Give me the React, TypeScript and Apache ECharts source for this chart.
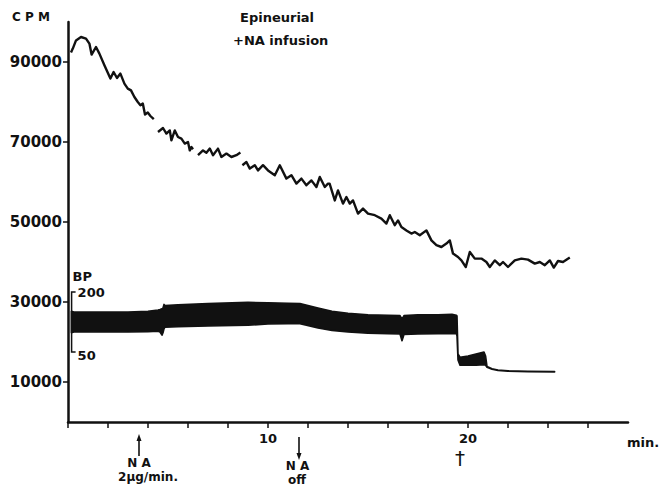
import React, { useEffect, useRef } from "react";
import * as echarts from "echarts";

const FONT = '"DejaVu Sans", sans-serif';
const INK = "#111";

// Axis ticks / labels
const xTicks = [0, 2, 4, 6, 8, 10, 12, 14, 16, 18, 20, 22, 24, 26];
const xLabels = [10, 20];
const yTicks = [10000, 30000, 50000, 70000, 90000];
const bpScale = [50, 200];
const bpScaleAt = 0.18; // minutes, where the BP calibration bracket is drawn

// CPM trace (minutes, counts per minute); null = pen gap
const cpmMinutes = [
  0.15, 0.24, 0.4, 0.65, 0.9, 1.07, 1.18, 1.4, 1.57, 1.82, 2.12, 2.28, 2.45, 2.62, 2.82, 2.99, 3.15, 3.32, 3.49, 3.62, 3.74, 3.85, 3.99, 4.12, 4.29,
  4.4,
  4.5, 4.75, 4.92, 5.09, 5.17, 5.34, 5.5, 5.67, 5.84, 6.0, 6.09, 6.17, 6.25,
  6.38,
  6.5, 6.75, 6.92, 7.09, 7.25, 7.5, 7.67, 7.92, 8.17, 8.42, 8.62,
  8.67,
  8.72, 8.92, 9.09, 9.34, 9.5, 9.75, 10.0, 10.34, 10.59, 10.92, 11.17, 11.42, 11.67, 11.92, 12.17, 12.42, 12.59, 12.84, 13.0, 13.08,
  13.34, 13.5, 13.75, 13.92, 14.09, 14.25, 14.5, 14.75, 15.0, 15.34, 15.67, 15.92, 16.09, 16.34, 16.5, 16.67, 16.92, 17.17, 17.34, 17.59,
  17.92, 18.17, 18.42, 18.67, 18.92, 19.09, 19.25, 19.5, 19.67, 19.89, 20.09, 20.34, 20.67, 20.92, 21.09, 21.34, 21.59, 21.75, 22.0, 22.34,
  22.67, 23.0, 23.34, 23.59, 23.84, 24.09, 24.29, 24.5, 24.75, 25.09,
];
const cpmValues: (number | null)[] = [
  92400, 93350, 95400, 96250, 95850, 94600, 91850, 93750, 92100, 89200, 85850, 87500, 86000, 87100, 84600, 83350, 82900, 81250, 80000, 79200, 79600, 76850, 77350, 76500, 75700,
  null,
  72500, 73500, 72100, 72900, 70400, 72900, 71250, 70850, 69600, 70000, 67900, 68750, 68200,
  null,
  66700, 67900, 67300, 68350, 66700, 68350, 66250, 67100, 66250, 66700, 67350,
  null,
  64200, 65000, 63350, 64200, 62900, 64200, 62900, 61700, 64200, 60850, 61700, 59600, 60850, 59200, 60400, 58750, 61250, 58750, 59600, 59600,
  55400, 57900, 54600, 56250, 54600, 55400, 52100, 53350, 52100, 51700, 50850, 49600, 51700, 49200, 50400, 48750, 47900, 47100, 47500, 46700,
  47900, 45400, 44200, 43750, 44600, 45400, 42100, 41250, 40400, 38750, 42500, 40850, 40850, 40000, 38750, 40400, 39200, 40000, 38750, 40400,
  40850, 40600, 39600, 40000, 39200, 40400, 38600, 40250, 40000, 41100,
];

// Blood pressure envelope (minutes, mmHg low / high)
const bpMinutes = [
  0.17, 0.3, 1.0, 2.0, 3.0, 4.0, 4.5, 4.6, 4.7, 4.75, 4.8, 4.85, 5.5, 7.0, 9.0, 10.0, 11.0, 11.6, 12.5, 13.2, 14.0, 15.0, 16.0, 16.6, 16.7,
  16.8, 17.5, 18.5, 19.2, 19.42, 19.45, 19.5, 19.6, 20.0, 20.4, 20.8, 20.88, 20.95, 21.2, 21.5, 22.0, 23.0, 24.33,
];
const bpLow = [
  98, 100, 100, 101, 100, 101, 102, 100, 92, 98, 108, 112, 113, 115, 117, 120, 121, 121, 110, 104, 100, 97, 96, 95, 78,
  94, 95, 96, 96, 96, 90, 30, 17, 17, 17, 18, 17, 12, 7, 4, 2, 1, 0,
];
const bpHigh = [
  152, 150, 150, 150, 150, 152, 155, 156, 158, 160, 169, 166, 168, 171, 174, 173, 172, 171, 160, 152, 147, 143, 142, 141, 132,
  141, 143, 143, 144, 142, 140, 45, 37, 40, 45, 50, 40, 14, 8, 5, 3, 2, 1,
];

// Event annotations below the time axis
const events = [
  { t: 3.55, dir: "up", lines: ["N A", "2μg/min."] },
  { t: 11.55, dir: "down", lines: ["N A", "off"] },
  { t: 19.6, dir: "none", lines: ["†"] },
];

export default function App() {
  const ref = useRef<HTMLDivElement>(null);

  useEffect(() => {
    if (!ref.current) return;
    const chart = echarts.init(ref.current, null, { renderer: "svg" });

    const option: any = {
      animation: false,
      backgroundColor: "#fff",
      grid: { left: 68, top: 22, width: 560, height: 400 },
      xAxis: {
        type: "value",
        min: 0,
        max: 28,
        name: "min.",
        nameLocation: "end",
        nameGap: -1,
        nameTextStyle: {
          color: INK,
          fontFamily: FONT,
          fontWeight: "bold",
          fontSize: 13,
          align: "left",
          verticalAlign: "top",
          padding: [14, 0, 0, 0],
        },
        axisLine: { show: true, onZero: false, lineStyle: { color: INK, width: 2.5 } },
        axisTick: { show: true, inside: false, length: 6, customValues: xTicks, lineStyle: { color: INK, width: 1.5 } },
        axisLabel: {
          show: true,
          customValues: xLabels,
          margin: 10,
          color: INK,
          fontFamily: FONT,
          fontWeight: "bold",
          fontSize: 13,
        },
        splitLine: { show: false },
      },
      yAxis: [
        {
          type: "value",
          min: 0,
          max: 100000,
          name: "C P M",
          nameLocation: "end",
          nameGap: 5,
          nameTextStyle: {
            color: INK,
            fontFamily: FONT,
            fontWeight: "bold",
            fontSize: 12,
            align: "right",
            verticalAlign: "middle",
            padding: [0, 18, 0, 0],
          },
          axisLine: { show: true, onZero: false, lineStyle: { color: INK, width: 2.5 } },
          axisTick: { show: true, inside: false, length: 5, customValues: yTicks, lineStyle: { color: INK, width: 1.5 } },
          axisLabel: {
            show: true,
            customValues: yTicks,
            formatter: (v: number) => String(v),
            margin: 6,
            color: INK,
            fontFamily: FONT,
            fontWeight: "bold",
            fontSize: 15,
          },
          splitLine: { show: false },
        },
        {
          type: "value",
          min: -125,
          max: 875,
          show: false,
          splitLine: { show: false },
        },
      ],
      series: [
        {
          type: "line",
          name: "CPM",
          data: cpmMinutes.map((t, i) => [t, cpmValues[i] === null ? "-" : cpmValues[i]]),
          showSymbol: false,
          symbol: "none",
          connectNulls: false,
          lineStyle: { color: INK, width: 2.4, join: "round" },
          z: 3,
        },
        {
          type: "custom",
          name: "BP",
          yAxisIndex: 1,
          data: bpMinutes.map((t, i) => [t, bpLow[i], bpHigh[i]]),
          encode: { x: 0, y: [1, 2] },
          renderItem: (params: any, api: any) => {
            if (params.dataIndex !== 0) return null;
            const pts: number[][] = [];
            for (let i = 0; i < bpMinutes.length; i++) pts.push(api.coord([bpMinutes[i], bpLow[i]]));
            for (let i = bpMinutes.length - 1; i >= 0; i--) pts.push(api.coord([bpMinutes[i], bpHigh[i]]));
            return {
              type: "polygon",
              shape: { points: pts },
              style: { fill: INK, stroke: INK, lineWidth: 1.6, lineJoin: "round" },
            };
          },
          z: 2,
        },
      ],
    };

    chart.setOption(option);

    const px = (t: number) => chart.convertToPixel({ xAxisIndex: 0 } as any, t) as unknown as number;
    const bpPx = (v: number) => chart.convertToPixel({ yAxisIndex: 1 } as any, v) as unknown as number;
    const axisBottom = chart.convertToPixel({ yAxisIndex: 0 } as any, 0) as unknown as number;

    const txt = (x: number, y: number, text: string, size = 13, align = "center") => ({
      type: "text",
      x,
      y,
      style: {
        text,
        fill: INK,
        font: `bold ${size}px ${FONT}`,
        align,
        textAlign: align,
        verticalAlign: "middle",
        textVerticalAlign: "middle",
      },
    });

    const g: any[] = [];

    // Title annotation
    g.push(txt(240, 17, "Epineurial", 13, "left"));
    g.push(txt(233, 40, "+NA infusion", 13, "left"));

    // BP calibration bracket
    const bx = px(bpScaleAt);
    const pHi = bpPx(bpScale[1]);
    const pLo = bpPx(bpScale[0]);
    g.push({
      type: "polyline",
      shape: { points: [[bx + 4, pHi], [bx, pHi], [bx, pLo], [bx + 4, pLo]] },
      style: { stroke: INK, lineWidth: 1.5, fill: null },
    });
    g.push(txt(bx + 6, pHi, String(bpScale[1]), 13, "left"));
    g.push(txt(bx + 6, pLo + 3, String(bpScale[0]), 13, "left"));
    g.push(txt(bx + 1, pHi - 16, "BP", 13, "left"));

    // Events
    const base = axisBottom;
    events.forEach((ev) => {
      const ax = px(ev.t);
      if (ev.dir === "up") {
        g.push({ type: "line", shape: { x1: ax, y1: base + 17, x2: ax, y2: base + 34 }, style: { stroke: INK, lineWidth: 1.6 } });
        g.push({ type: "polygon", shape: { points: [[ax, base + 12], [ax - 2.5, base + 19], [ax + 2.5, base + 19]] }, style: { fill: INK } });
        g.push(txt(ax, base + 41, ev.lines[0], 12));
        g.push(txt(ax + 9, base + 55, ev.lines[1], 12));
      } else if (ev.dir === "down") {
        g.push({ type: "line", shape: { x1: ax, y1: base + 15, x2: ax, y2: base + 32 }, style: { stroke: INK, lineWidth: 1.6 } });
        g.push({ type: "polygon", shape: { points: [[ax, base + 38], [ax - 2.5, base + 31], [ax + 2.5, base + 31]] }, style: { fill: INK } });
        g.push(txt(ax - 1.5, base + 44, ev.lines[0], 12));
        g.push(txt(ax - 2, base + 58, ev.lines[1], 12));
      } else {
        g.push({
          type: "text",
          x: ax,
          y: base + 36,
          style: {
            text: ev.lines[0],
            fill: INK,
            font: `20px ${FONT}`,
            align: "center",
            textAlign: "center",
            verticalAlign: "middle",
            textVerticalAlign: "middle",
          },
        });
      }
    });

    chart.setOption({ graphic: g });

    return () => chart.dispose();
  }, []);

  return (
    <div
      ref={ref}
      style={{ position: "absolute", left: 0, top: 0, width: 666, height: 493, background: "#fff" }}
    />
  );
}
